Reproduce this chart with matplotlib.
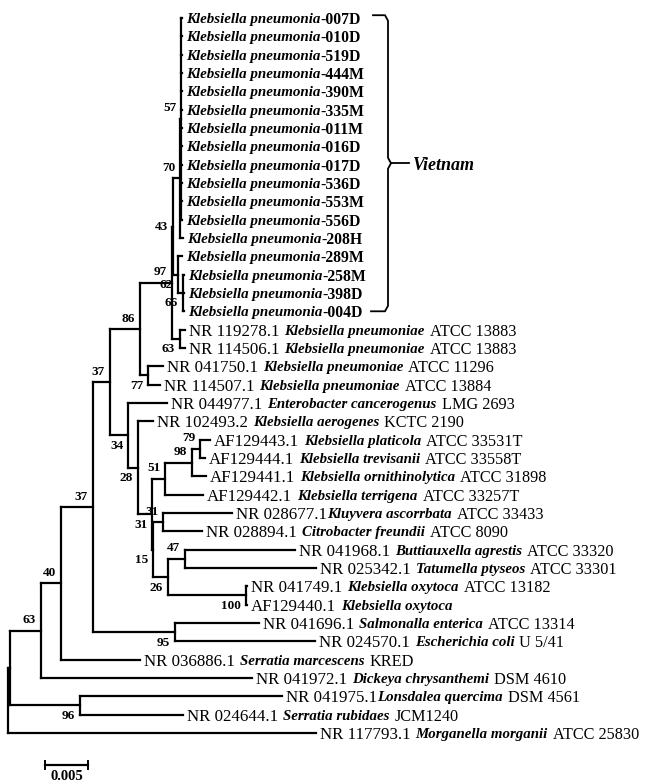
import matplotlib
matplotlib.use('Agg')
import matplotlib.pyplot as plt
from matplotlib import transforms

plt.rcParams['font.family'] = ['Liberation Serif', 'DejaVu Serif']

# tree topology + branch lengths (substitutions/site), bootstrap as node names
newick = (
    "(((((((((((007D:0.0001,010D:0.0001,519D:0.0001,444M:0.0001,390M:0.0001,"
    "335M:0.0001,011M:0.0001,016D:0.0001,017D:0.0001,536D:0.0001,553M:0.0001,"
    "556D:0.0001)57:0.00012,208H:0.00035)70:0.00081,"
    "(289M:0.00047,(258M:0.0001,398D:0.0001,004D:0.0001)66:0.00058)62:0.00058)43:0.00012,"
    "(NR119278:0.00058,NR114506:0.00058)63:0.00093)97:0.00372,"
    "(NR041750:0.00174,NR114507:0.0014)77:0.00093)86:0.00349,"
    "(NR044977:0.00453,(NR102493:0.00174,"
    "((((AF129443:0.00116,AF129444:0.00058)79:0.00093,AF129441:0.00163)98:0.00314,"
    "AF129442:0.00442)51:0.00151,"
    "((NR028677:0.00802,NR028894:0.00453)31:0.00116,"
    "((NR041968:0.01279,NR025342:0.01523)47:0.00198,"
    "(NR041749:0.0001,AF129440:0.0001)100:0.00907)26:0.00174)15:0.00012)31:0.00163)28:0.00116)34:0.0021)37:0.00198,"
    "(NR041696:0.00977,NR024570:0.01628)95:0.00953)37:0.00372,"
    "NR036886:0.00919)40:0.00233,NR041972:0.02453)63:0.0036,"
    "(NR041975:0.02349,NR024644:0.01198)96:0.00814):0.00023,NR117793:0.03581);"
)

vietnam_ids = ['007D', '010D', '519D', '444M', '390M', '335M', '011M', '016D', '017D',
               '536D', '553M', '556D', '208H', '289M', '258M', '398D', '004D']

ref_ids = ['NR119278', 'NR114506', 'NR041750', 'NR114507', 'NR044977', 'NR102493',
           'AF129443', 'AF129444', 'AF129441', 'AF129442', 'NR028677', 'NR028894',
           'NR041968', 'NR025342', 'NR041749', 'AF129440', 'NR041696', 'NR024570',
           'NR036886', 'NR041972', 'NR041975', 'NR024644', 'NR117793']
ref_acc = ['NR 119278.1', 'NR 114506.1', 'NR 041750.1', 'NR 114507.1', 'NR 044977.1',
           'NR 102493.2', 'AF129443.1', 'AF129444.1', 'AF129441.1', 'AF129442.1',
           'NR 028677.1', 'NR 028894.1', 'NR 041968.1', 'NR 025342.1', 'NR 041749.1',
           'AF129440.1', 'NR 041696.1', 'NR 024570.1', 'NR 036886.1', 'NR 041972.1',
           'NR 041975.1', 'NR 024644.1', 'NR 117793.1']
ref_species = ['Klebsiella pneumoniae', 'Klebsiella pneumoniae', 'Klebsiella pneumoniae',
               'Klebsiella pneumoniae', 'Enterobacter cancerogenus', 'Klebsiella aerogenes',
               'Klebsiella platicola', 'Klebsiella trevisanii', 'Klebsiella ornithinolytica',
               'Klebsiella terrigena', 'Kluyvera ascorrbata', 'Citrobacter freundii',
               'Buttiauxella agrestis', 'Tatumella ptyseos', 'Klebsiella oxytoca',
               'Klebsiella oxytoca', 'Salmonalla enterica', 'Escherichia coli',
               'Serratia marcescens', 'Dickeya chrysanthemi', 'Lonsdalea quercima',
               'Serratia rubidaes', 'Morganella morganii']
ref_strain = ['ATCC 13883', 'ATCC 13883', 'ATCC 11296', 'ATCC 13884', 'LMG 2693',
              'KCTC 2190', 'ATCC 33531T', 'ATCC 33558T', 'ATCC 31898', 'ATCC 33257T',
              'ATCC 33433', 'ATCC 8090', 'ATCC 33320', 'ATCC 33301', 'ATCC 13182', '',
              'ATCC 13314', 'U 5/41', 'KRED', 'DSM 4610', 'DSM 4561', 'JCM1240', 'ATCC 25830']

scale_len = 0.005
group_name = 'Vietnam'

# where bootstrap values sit relative to their node, in preorder of appearance
label_below = {('34', 0), ('28', 0), ('77', 0), ('63', 1), ('62', 0), ('66', 0),
               ('31', 0), ('15', 0), ('26', 0), ('100', 0), ('95', 0), ('96', 0)}
label_mid = {('43', 0)}


def parse(s):
    pos = 0

    def node():
        nonlocal pos
        kids = []
        if s[pos] == '(':
            pos += 1
            kids.append(node())
            while s[pos] == ',':
                pos += 1
                kids.append(node())
            pos += 1
        start = pos
        while s[pos] not in ',():;':
            pos += 1
        name = s[start:pos]
        bl = 0.0
        if s[pos] == ':':
            pos += 1
            start = pos
            while s[pos] not in ',();':
                pos += 1
            bl = float(s[start:pos])
        return {'name': name, 'bl': bl, 'kids': kids}

    return node()


root = parse(newick)

leaves = []


def layout(n, x0):
    n['x'] = x0 + n['bl']
    if not n['kids']:
        n['y'] = len(leaves)
        leaves.append(n)
    else:
        for k in n['kids']:
            layout(k, n['x'])
        n['y'] = (n['kids'][0]['y'] + n['kids'][-1]['y']) / 2


root['bl'] = 0.0
layout(root, 0.0)

u = scale_len / 43  # data units per pixel
fig = plt.figure(figsize=(6.48, 7.83), dpi=100)
ax = fig.add_axes([0, 0, 1, 1])
ax.set_xlim(-8 * u, 640 * u)
ax.set_ylim(41.73, -0.98)
ax.axis('off')
rend = fig.canvas.get_renderer()

lw = 1.6
seen = {}


def draw(n, parent_x):
    ax.plot([parent_x, n['x']], [n['y'], n['y']], color='black', lw=lw,
            solid_capstyle='projecting')
    if n['kids']:
        ax.plot([n['x'], n['x']], [n['kids'][0]['y'], n['kids'][-1]['y']],
                color='black', lw=lw, solid_capstyle='projecting')
        if n['name']:
            k = (n['name'], seen.get(n['name'], 0))
            seen[n['name']] = k[1] + 1
            dy = 7.5
            if k in label_below:
                dy = -7.5
            elif k in label_mid:
                dy = 0
            ax.annotate(n['name'], (n['x'], n['y']), xytext=(-3.5, dy),
                        textcoords='offset points', ha='right', va='center',
                        fontsize=9.5, fontweight='bold')
        for c in n['kids']:
            draw(c, n['x'])


draw(root, root['x'])


def put_parts(x, y, parts):
    trans = ax.transData
    for text, size, weight, style, gap in parts:
        t = ax.text(x, y, text, transform=trans, fontsize=size, fontweight=weight,
                    fontstyle=style, va='center_baseline', ha='left')
        w = t.get_window_extent(renderer=rend).width
        trans = transforms.offset_copy(trans, x=w + gap, units='dots')


for lf in leaves:
    x = lf['x'] + 4 * u
    if lf['name'] in vietnam_ids:
        put_parts(x, lf['y'], [('Klebsiella pneumonia', 10.8, 'bold', 'italic', 0),
                               ('-' + lf['name'], 11.3, 'bold', 'normal', 0)])
    else:
        i = ref_ids.index(lf['name'])
        g = 0 if lf['name'] in ('NR028677', 'NR041975') else 5
        put_parts(x, lf['y'], [(ref_acc[i], 12.2, 'normal', 'normal', g),
                               (ref_species[i], 10.7, 'bold', 'italic', 5),
                               (ref_strain[i], 11.7, 'normal', 'normal', 0)])

# brace around the Vietnam isolates
ys = [lf['y'] for lf in leaves if lf['name'] in vietnam_ids]
y0, y1 = min(ys) - 0.15, max(ys)
ym = (y0 + y1) / 2
bx = (388 - 8) * u
brace_x = [(373 - 8) * u, (385 - 8) * u, bx, bx, (391 - 8) * u, bx, bx, (385 - 8) * u, (371 - 8) * u]
brace_y = [y0, y0, y0 + 0.3, ym - 0.3, ym, ym + 0.3, y1 - 0.3, y1, y1]
ax.plot(brace_x, brace_y, color='black', lw=1.3)
ax.plot([(391 - 8) * u, (409 - 8) * u], [ym, ym], color='black', lw=1.3)
ax.text((413 - 8) * u, ym, group_name, fontsize=13, fontweight='bold', fontstyle='italic',
        va='center_baseline', ha='left')

# scale bar
sx0 = (45 - 8) * u
sy = 40.75
ax.plot([sx0, sx0 + scale_len], [sy, sy], color='black', lw=1.6)
for xx in (sx0, sx0 + scale_len):
    ax.plot([xx, xx], [sy - 0.22, sy + 0.22], color='black', lw=1.4)
ax.text(sx0 + scale_len / 2, sy + 0.6, f'{scale_len}', fontsize=10.5, fontweight='bold',
        ha='center', va='center')

fig.savefig('out.png', dpi=100)
